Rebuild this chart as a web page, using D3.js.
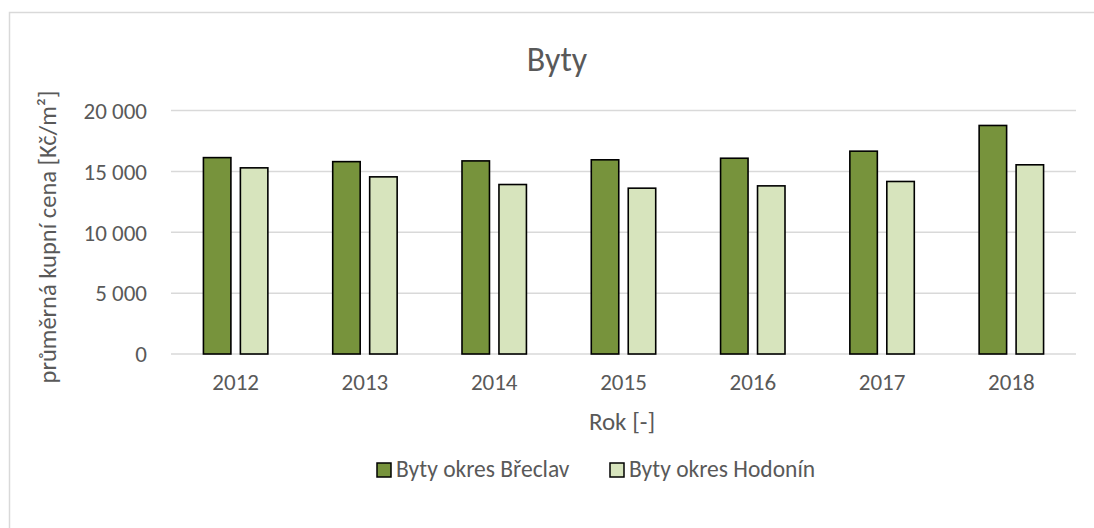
<!DOCTYPE html>
<html>
<head>
<meta charset="utf-8">
<script src="https://cdn.jsdelivr.net/npm/d3@7"></script>
<style>
  body { margin: 0; background: #fff; }
  text { font-family: Calibri, Carlito, Lato, "Open Sans", sans-serif; fill: #595959; }
</style>
</head>
<body>
<div id="chart"></div>
<script>
// Data
var years = ["2012", "2013", "2014", "2015", "2016", "2017", "2018"];
var seriesNames = ["Byty okres Břeclav", "Byty okres Hodonín"];
var breclav = [16130, 15800, 15860, 15950, 16080, 16660, 18770];
var hodonin = [15290, 14550, 13920, 13620, 13810, 14170, 15540];
var yTicks = [0, 5000, 10000, 15000, 20000];
var colors = ["#77933c", "#d7e4bd"];

var visualize = function() {
  var W = 1094, H = 528;
  var left = 171, right = 1076, top = 110.5, bottom = 354;

  var svg = d3.select("#chart")
    .append("svg")
    .attr("width", W)
    .attr("height", H);

  // chart area border (runs off the right and bottom edge)
  svg.append("rect")
    .attr("x", 9.5).attr("y", 12.5)
    .attr("width", 1200).attr("height", 600)
    .attr("fill", "#fff")
    .attr("stroke", "#d9d9d9")
    .attr("stroke-width", 1.5);

  var x0 = d3.scaleBand()
    .domain(years)
    .range([left, right])
    .paddingInner(0.49)
    .paddingOuter(0.245);

  var x1 = d3.scaleBand()
    .domain(seriesNames)
    .range([0, x0.bandwidth()])
    .paddingInner(0.216);

  var y = d3.scaleLinear()
    .domain([0, 20000])
    .range([bottom, top]);

  var fmt = d3.formatLocale({ decimal: ",", thousands: " ", grouping: [3], currency: ["", ""] }).format(",d");

  // gridlines
  svg.append("g")
    .selectAll("line")
    .data(yTicks)
    .enter()
    .append("line")
    .attr("x1", left).attr("x2", right)
    .attr("y1", function(d) { return y(d); })
    .attr("y2", function(d) { return y(d); })
    .attr("stroke", "#d9d9d9")
    .attr("stroke-width", 1.5);

  // y axis labels
  var yAxis = d3.axisLeft(y).tickValues(yTicks).tickFormat(fmt).tickSize(0).tickPadding(0);
  var gy = svg.append("g")
    .attr("transform", "translate(147,0)")
    .call(yAxis);
  gy.select(".domain").remove();
  gy.selectAll("text")
    .style("font-size", "23px")
    .attr("fill", "#595959")
    .attr("dy", "0.34em");

  // x axis labels
  var xAxis = d3.axisBottom(x0).tickSize(0).tickPadding(0);
  var gx = svg.append("g")
    .attr("transform", "translate(0,374)")
    .call(xAxis);
  gx.select(".domain").remove();
  gx.selectAll("text")
    .style("font-size", "23px")
    .attr("fill", "#595959")
    .attr("dy", "0.71em");

  // bars
  var rows = years.map(function(yr, i) {
    return { year: yr, values: [breclav[i], hodonin[i]] };
  });

  var groups = svg.selectAll(".grp")
    .data(rows)
    .enter()
    .append("g")
    .attr("transform", function(d) { return "translate(" + x0(d.year) + ",0)"; });

  groups.selectAll("rect")
    .data(function(d) { return d.values.map(function(v, j) { return { name: seriesNames[j], value: v, j: j }; }); })
    .enter()
    .append("rect")
    .attr("x", function(d) { return x1(d.name) + 0.75; })
    .attr("y", function(d) { return y(d.value); })
    .attr("width", x1.bandwidth() - 1.5)
    .attr("height", function(d) { return bottom - y(d.value); })
    .attr("fill", function(d) { return colors[d.j]; })
    .attr("stroke", "#000")
    .attr("stroke-width", 1.6);

  // title
  svg.append("text")
    .attr("x", 557).attr("y", 71)
    .attr("text-anchor", "middle")
    .style("font-size", "34px")
    .text("Byty");

  // axis titles
  svg.append("text")
    .attr("transform", "translate(56,237) rotate(-90)")
    .attr("text-anchor", "middle")
    .style("font-size", "24.5px")
    .text("průměrná kupní cena [Kč/m²]");

  svg.append("text")
    .attr("x", 622).attr("y", 430)
    .attr("text-anchor", "middle")
    .style("font-size", "25px")
    .text("Rok [-]");

  // legend
  var legendX = [377, 610];
  var leg = svg.selectAll(".leg")
    .data(seriesNames)
    .enter()
    .append("g")
    .attr("transform", function(d, i) { return "translate(" + legendX[i] + ",463)"; });
  leg.append("rect")
    .attr("width", 14).attr("height", 14)
    .attr("fill", function(d, i) { return colors[i]; })
    .attr("stroke", "#000")
    .attr("stroke-width", 1.5);
  leg.append("text")
    .attr("x", 19).attr("y", 14)
    .style("font-size", "23.5px")
    .text(function(d) { return d; });
};

visualize();
</script>
</body>
</html>
